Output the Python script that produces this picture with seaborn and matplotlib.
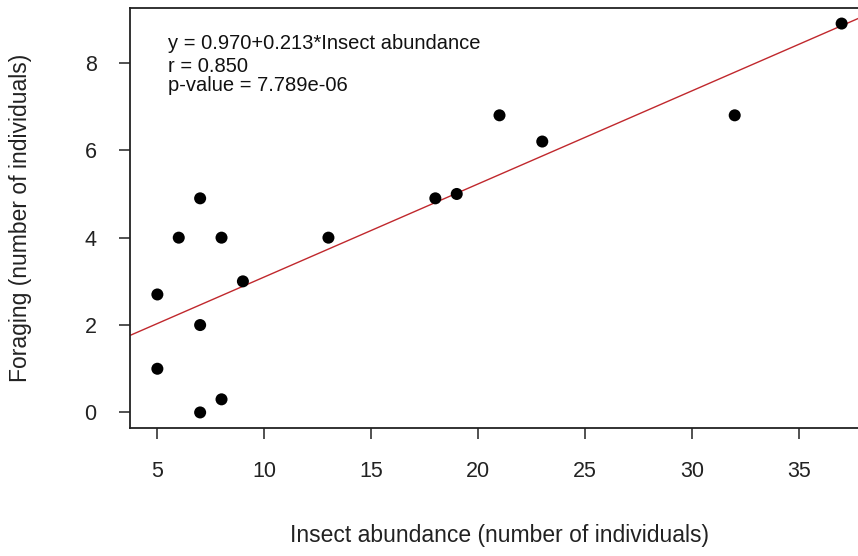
import matplotlib
matplotlib.use("Agg")
import matplotlib.pyplot as plt
import seaborn as sns
import pandas as pd

# values
insect_abundance = [5, 5, 6, 7, 7, 7, 8, 8, 9, 13, 18, 19, 21, 23, 32, 37]
foraging = [2.7, 1.0, 4.0, 4.9, 2.0, 0.0, 4.0, 0.3, 3.0, 4.0, 4.9, 5.0, 6.8, 6.2, 6.8, 8.9]
intercept = 0.970
slope = 0.213
stats_lines = ["y = 0.970+0.213*Insect abundance", "r = 0.850", "p-value = 7.789e-06"]
x_ticks = [5, 10, 15, 20, 25, 30, 35]
y_ticks = [0, 2, 4, 6, 8]

df = pd.DataFrame({"insect": insect_abundance, "foraging": foraging})

sns.set_style("ticks")
plt.rcParams["font.family"] = ["Liberation Sans", "DejaVu Sans"]

fig = plt.figure(figsize=(8.58, 5.56), dpi=100)
ax = fig.add_axes([130 / 858, 128 / 556, 739 / 858, 420 / 556])

sns.scatterplot(data=df, x="insect", y="foraging", color="black", s=75,
                edgecolor="none", ax=ax, zorder=3)
ax.axline((0, intercept), slope=slope, color="#c0282d", lw=1.0, zorder=2)

ax.set_xlim(3.72, 38.28)
ax.set_ylim(-0.356, 9.256)
ax.set_xticks(x_ticks)
ax.set_yticks(y_ticks)
ax.tick_params(axis="both", direction="out", length=8, width=1.1, color="#222222",
               labelsize=15.5, labelcolor="#222222")
ax.tick_params(axis="x", pad=16)
ax.tick_params(axis="y", pad=16)
for sp in ax.spines.values():
    sp.set_visible(True)
    sp.set_color("#222222")
    sp.set_linewidth(1.3)

ax.set_xlabel("Insect abundance (number of individuals)", fontsize=16.5,
              color="#222222", labelpad=30)
ax.set_ylabel("Foraging (number of individuals)", fontsize=16.5,
              color="#222222", labelpad=38)

for txt, yy in zip(stats_lines, [0.903, 0.848, 0.802]):
    ax.text(0.052, yy, txt, transform=ax.transAxes, fontsize=14.5, va="baseline",
            ha="left", color="#111111")

fig.savefig("out.png", dpi=100)
